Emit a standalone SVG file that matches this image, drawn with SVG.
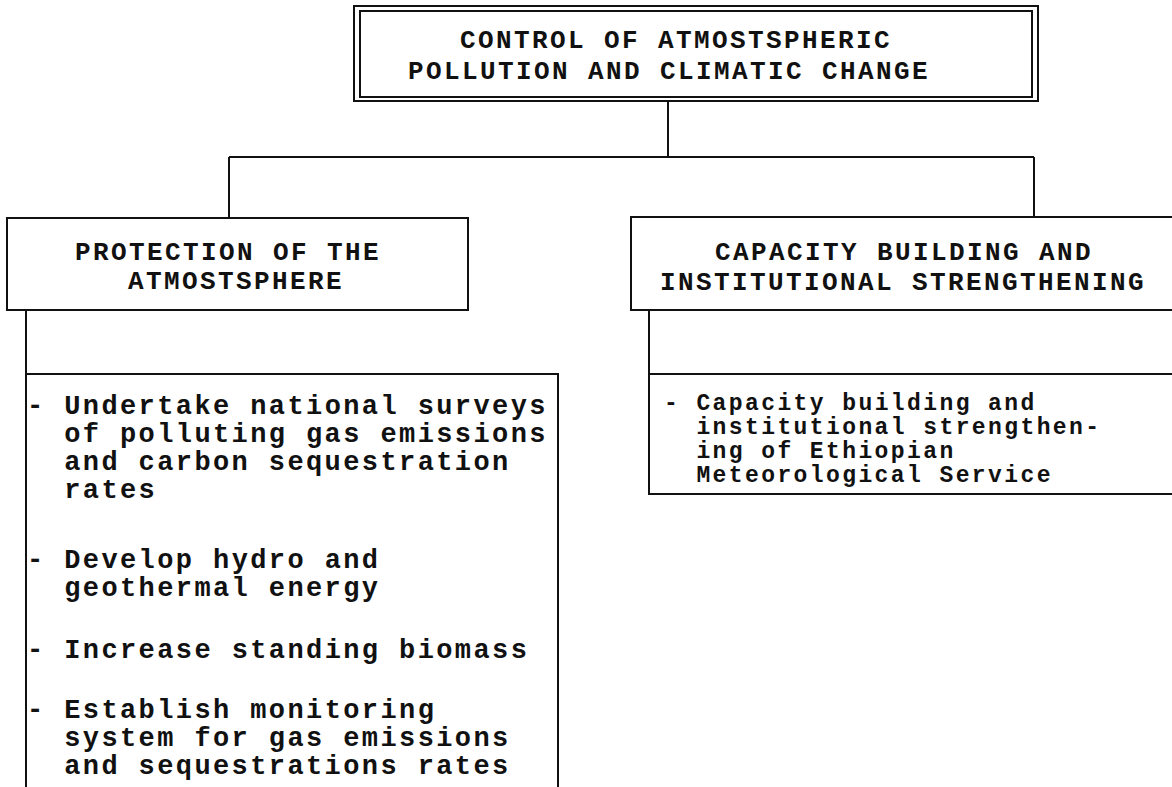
<svg xmlns="http://www.w3.org/2000/svg" width="1172" height="787" viewBox="0 0 1172 787">
<style>
.b{fill:none;stroke:#111;stroke-width:2}
.h,.t,.s{font-family:"Liberation Mono","Courier New",monospace;font-weight:bold;fill:#111;letter-spacing:2.4px}
.h{font-size:26px}
.t{font-size:27px}
.s{font-size:23px}
</style>
<rect width="1172" height="787" fill="#fff"/>
<g id="connectors" class="b">
<path d="M668 101V157M229 157H1034M229 157V218M1034 157V217"/>
</g>
<g id="root">
<rect class="b" x="354" y="6" width="684" height="95"/>
<rect class="b" x="360" y="11" width="672" height="86"/>
<text class="h"><tspan x="460" y="48">CONTROL OF ATMOSTSPHERIC</tspan><tspan x="408" y="79">POLLUTION AND CLIMATIC CHANGE</tspan></text>
</g>
<g id="protection">
<rect class="b" x="7" y="218" width="461" height="92"/>
<text class="h"><tspan x="75" y="260">PROTECTION OF THE</tspan><tspan x="128" y="289">ATMOSTSPHERE</tspan></text>
</g>
<g id="protection-actions">
<path class="b" d="M26 310V787M26 374H558V787"/>
<text class="t"><tspan x="27" y="414">- Undertake national surveys</tspan><tspan x="64.2" y="442">of polluting gas emissions</tspan><tspan x="64.2" y="470">and carbon sequestration</tspan><tspan x="64.2" y="498">rates</tspan></text>
<text class="t"><tspan x="27" y="568">- Develop hydro and</tspan><tspan x="64.2" y="596">geothermal energy</tspan></text>
<text class="t" x="27" y="658">- Increase standing biomass</text>
<text class="t"><tspan x="27" y="718">- Establish monitoring</tspan><tspan x="64.2" y="746">system for gas emissions</tspan><tspan x="64.2" y="774">and sequestrations rates</tspan></text>
</g>
<g id="capacity">
<path class="b" d="M1173 217H631V310H1173"/>
<text class="h"><tspan x="715" y="260">CAPACITY BUILDING AND</tspan><tspan x="660" y="290">INSTITUTIONAL STRENGTHENING</tspan></text>
</g>
<g id="capacity-actions">
<path class="b" d="M649 310V494H1173M649 374H1173"/>
<text class="s"><tspan x="664" y="410">- Capacity building and</tspan><tspan x="696.4" y="434">institutional strengthen-</tspan><tspan x="696.4" y="458">ing of Ethiopian</tspan><tspan x="696.4" y="482">Meteorological Service</tspan></text>
</g>
</svg>
